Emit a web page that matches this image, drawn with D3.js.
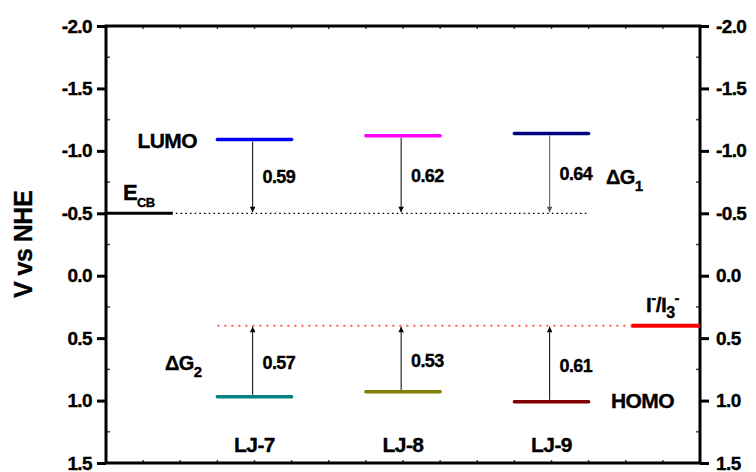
<!DOCTYPE html>
<html>
<head>
<meta charset="utf-8">
<script src="https://cdn.jsdelivr.net/npm/d3@7"></script>
<style>
  html, body { margin: 0; padding: 0; background: #fff; }
  svg { display: block; font-family: "Liberation Sans", Arial, sans-serif; font-weight: bold; }
  text { stroke: #000; stroke-width: 0.35px; }
</style>
</head>
<body>
<svg id="chart" width="756" height="472"></svg>
<script>
// Energy-level diagram of the dyes vs. TiO2 conduction band and the iodide redox couple
const dyes = ["LJ-7", "LJ-8", "LJ-9"];
const dyeX = [4, 8, 12];                        // centre of each dye column (x units)
const dG1 = [0.59, 0.62, 0.64];                 // LUMO -> E_CB driving force (eV)
const dG2 = [0.57, 0.53, 0.61];                 // I-/I3- -> HOMO regeneration driving force (eV)
const lumoColors = ["#0000ff", "#ff00ff", "#000080"];
const homoColors = ["#008080", "#808000", "#800000"];
const eCB = -0.5;                               // TiO2 conduction band edge (V vs NHE)
const redox = 0.4;                              // I-/I3- potential (V vs NHE)
const yTicks = [-2.0, -1.5, -1.0, -0.5, 0.0, 0.5, 1.0, 1.5];
const yTickLabels = ["-2.0", "-1.5", "-1.0", "-0.5", "0.0", "0.5", "1.0", "1.5"];
const yMinorTicks = [-1.75, -1.25, -0.75, -0.25, 0.25, 0.75, 1.25];
const xMinorTicks = d3.range(1, 16);

// levels derived from the stated gaps
const lumo = dG1.map(g => +(eCB - g).toFixed(2));
const homo = dG2.map(g => +(redox + g).toFixed(2));

const svg = d3.select("#chart");
const x = d3.scaleLinear().domain([0, 16]).range([106, 700]);
const y = d3.scaleLinear().domain([-2, 1.5]).range([26, 463]);

svg.append("defs").selectAll("marker")
  .data([["arrowK", "#000"], ["arrowG", "#555"]])
  .join("marker")
  .attr("id", d => d[0])
  .attr("viewBox", "0 0 10 10")
  .attr("refX", 10).attr("refY", 5)
  .attr("markerWidth", 9).attr("markerHeight", 5.5)
  .attr("markerUnits", "userSpaceOnUse")
  .attr("orient", "auto")
  .append("path").attr("d", "M0,0 L10,5 L0,10 Z").attr("fill", d => d[1]);

// axes
const fmt = (v) => yTickLabels[yTicks.indexOf(v)];
const left = d3.axisLeft(y).tickValues(yTicks).tickFormat(fmt).tickSize(9).tickPadding(5);
const right = d3.axisRight(y).tickValues(yTicks).tickFormat(fmt).tickSize(9).tickPadding(7);

function styleAxis(g) {
  g.select(".domain").remove();
  g.selectAll(".tick line").attr("stroke", "#000").attr("stroke-width", 3);
  g.selectAll(".tick text").attr("fill", "#000").attr("font-size", 19)
    .attr("font-weight", "bold").attr("letter-spacing", -0.6)
    .attr("font-family", "'Liberation Sans', Arial, sans-serif");
}
svg.append("g").attr("transform", `translate(${x(0)},0)`).call(left).call(styleAxis);
svg.append("g").attr("transform", `translate(${x(16)},0)`).call(right).call(styleAxis);

// minor ticks (inward)
const minor = svg.append("g").attr("stroke", "#444").attr("stroke-width", 1.5);
minor.selectAll(".ml").data(yMinorTicks).join("line")
  .attr("x1", x(0)).attr("x2", x(0) + 4).attr("y1", d => y(d)).attr("y2", d => y(d));
minor.selectAll(".mr").data(yMinorTicks).join("line")
  .attr("x1", x(16)).attr("x2", x(16) - 4).attr("y1", d => y(d)).attr("y2", d => y(d));
minor.selectAll(".mt").data(xMinorTicks).join("line")
  .attr("x1", d => x(d)).attr("x2", d => x(d)).attr("y1", y(-2)).attr("y2", y(-2) + 3);
minor.selectAll(".mb").data(xMinorTicks).join("line")
  .attr("x1", d => x(d)).attr("x2", d => x(d)).attr("y1", y(1.5)).attr("y2", y(1.5) - 3);

// frame
svg.append("rect")
  .attr("x", x(0)).attr("y", y(-2))
  .attr("width", x(16) - x(0)).attr("height", y(1.5) - y(-2))
  .attr("fill", "none").attr("stroke", "#000").attr("stroke-width", 3);

// reference levels
svg.append("line").attr("x1", x(0)).attr("x2", x(1.8)).attr("y1", y(eCB)).attr("y2", y(eCB))
  .attr("stroke", "#000").attr("stroke-width", 3);
svg.append("line").attr("x1", x(1.8) + 3).attr("x2", x(13)).attr("y1", y(eCB)).attr("y2", y(eCB))
  .attr("stroke", "#000").attr("stroke-width", 1.2).attr("stroke-dasharray", "1.6,3.1");
svg.append("line").attr("x1", x(3)).attr("x2", x(14.15)).attr("y1", y(redox)).attr("y2", y(redox))
  .attr("stroke", "#ff5a5a").attr("stroke-width", 2).attr("stroke-dasharray", "2,5");
svg.append("line").attr("x1", x(14.15)).attr("x2", x(16)).attr("y1", y(redox)).attr("y2", y(redox))
  .attr("stroke", "#ff0000").attr("stroke-width", 4);

// dye levels
const lv = svg.append("g").attr("stroke-width", 3.5).attr("stroke-linecap", "round");
lv.selectAll(".lumo").data(dyes).join("line")
  .attr("x1", (d, i) => x(dyeX[i] - 1)).attr("x2", (d, i) => x(dyeX[i] + 1))
  .attr("y1", (d, i) => y(lumo[i])).attr("y2", (d, i) => y(lumo[i]))
  .attr("stroke", (d, i) => lumoColors[i]);
lv.selectAll(".homo").data(dyes).join("line")
  .attr("x1", (d, i) => x(dyeX[i] - 1)).attr("x2", (d, i) => x(dyeX[i] + 1))
  .attr("y1", (d, i) => y(homo[i])).attr("y2", (d, i) => y(homo[i]))
  .attr("stroke", (d, i) => homoColors[i]);

// arrows
const ar = svg.append("g").attr("stroke-width", 1);
ar.selectAll(".down").data(dyes).join("line")
  .attr("x1", (d, i) => x(dyeX[i] - 0.05)).attr("x2", (d, i) => x(dyeX[i] - 0.05))
  .attr("y1", (d, i) => y(lumo[i]) + 2).attr("y2", y(eCB) - 1)
  .attr("stroke", (d, i) => i === 2 ? "#555" : "#000")
  .attr("marker-end", (d, i) => i === 2 ? "url(#arrowG)" : "url(#arrowK)");
ar.selectAll(".up").data(dyes).join("line")
  .attr("x1", (d, i) => x(dyeX[i] - 0.05)).attr("x2", (d, i) => x(dyeX[i] - 0.05))
  .attr("y1", (d, i) => y(homo[i]) - 2).attr("y2", y(redox) + 1)
  .attr("stroke", "#000").attr("marker-end", "url(#arrowK)");

// gap values
const tx = svg.append("g").attr("fill", "#000").attr("letter-spacing", -0.6);
tx.selectAll(".g1").data(dG1).join("text")
  .attr("x", (d, i) => x(dyeX[i]) + 8).attr("y", (d, i) => (y(lumo[i]) + y(eCB)) / 2 + 7)
  .attr("font-size", 18).text(d => d.toFixed(2));
tx.selectAll(".g2").data(dG2).join("text")
  .attr("x", (d, i) => x(dyeX[i]) + 8).attr("y", (d, i) => (y(homo[i]) + y(redox)) / 2 + 8)
  .attr("font-size", 18).text(d => d.toFixed(2));

// dye names
tx.selectAll(".name").data(dyes).join("text")
  .attr("x", (d, i) => x(dyeX[i])).attr("y", 452).attr("text-anchor", "middle")
  .attr("font-size", 21).text(d => d);

// level labels
tx.append("text").attr("x", 197).attr("y", 148).attr("text-anchor", "end").attr("font-size", 21).text("LUMO");
tx.append("text").attr("x", 611).attr("y", 408).attr("font-size", 21).text("HOMO");

const ecbLabel = tx.append("text").attr("x", 123).attr("y", 200).attr("font-size", 22);
ecbLabel.append("tspan").text("E");
ecbLabel.append("tspan").attr("font-size", 13).attr("dy", 7).text("CB");

const g1Label = tx.append("text").attr("x", 606).attr("y", 184).attr("font-size", 20);
g1Label.append("tspan").text("ΔG");
g1Label.append("tspan").attr("font-size", 15).attr("dy", 7).text("1");

const g2Label = tx.append("text").attr("x", 165).attr("y", 370).attr("font-size", 20);
g2Label.append("tspan").text("ΔG");
g2Label.append("tspan").attr("font-size", 15).attr("dy", 7).text("2");

const redoxLabel = tx.append("text").attr("x", 646).attr("y", 312).attr("font-size", 21);
redoxLabel.append("tspan").text("I");
redoxLabel.append("tspan").attr("font-size", 15).attr("dy", -9).text("-");
redoxLabel.append("tspan").attr("dy", 9).text("/I");
redoxLabel.append("tspan").attr("font-size", 16).attr("dy", 6).text("3");
redoxLabel.append("tspan").attr("font-size", 15).attr("dy", -15).text("-");

// y-axis title
svg.append("text")
  .attr("transform", `translate(32,${(y(-2) + y(1.5)) / 2}) rotate(-90)`)
  .attr("text-anchor", "middle").attr("font-size", 25).attr("fill", "#000")
  .attr("letter-spacing", -0.5)
  .text("V vs NHE");
</script>
</body>
</html>
